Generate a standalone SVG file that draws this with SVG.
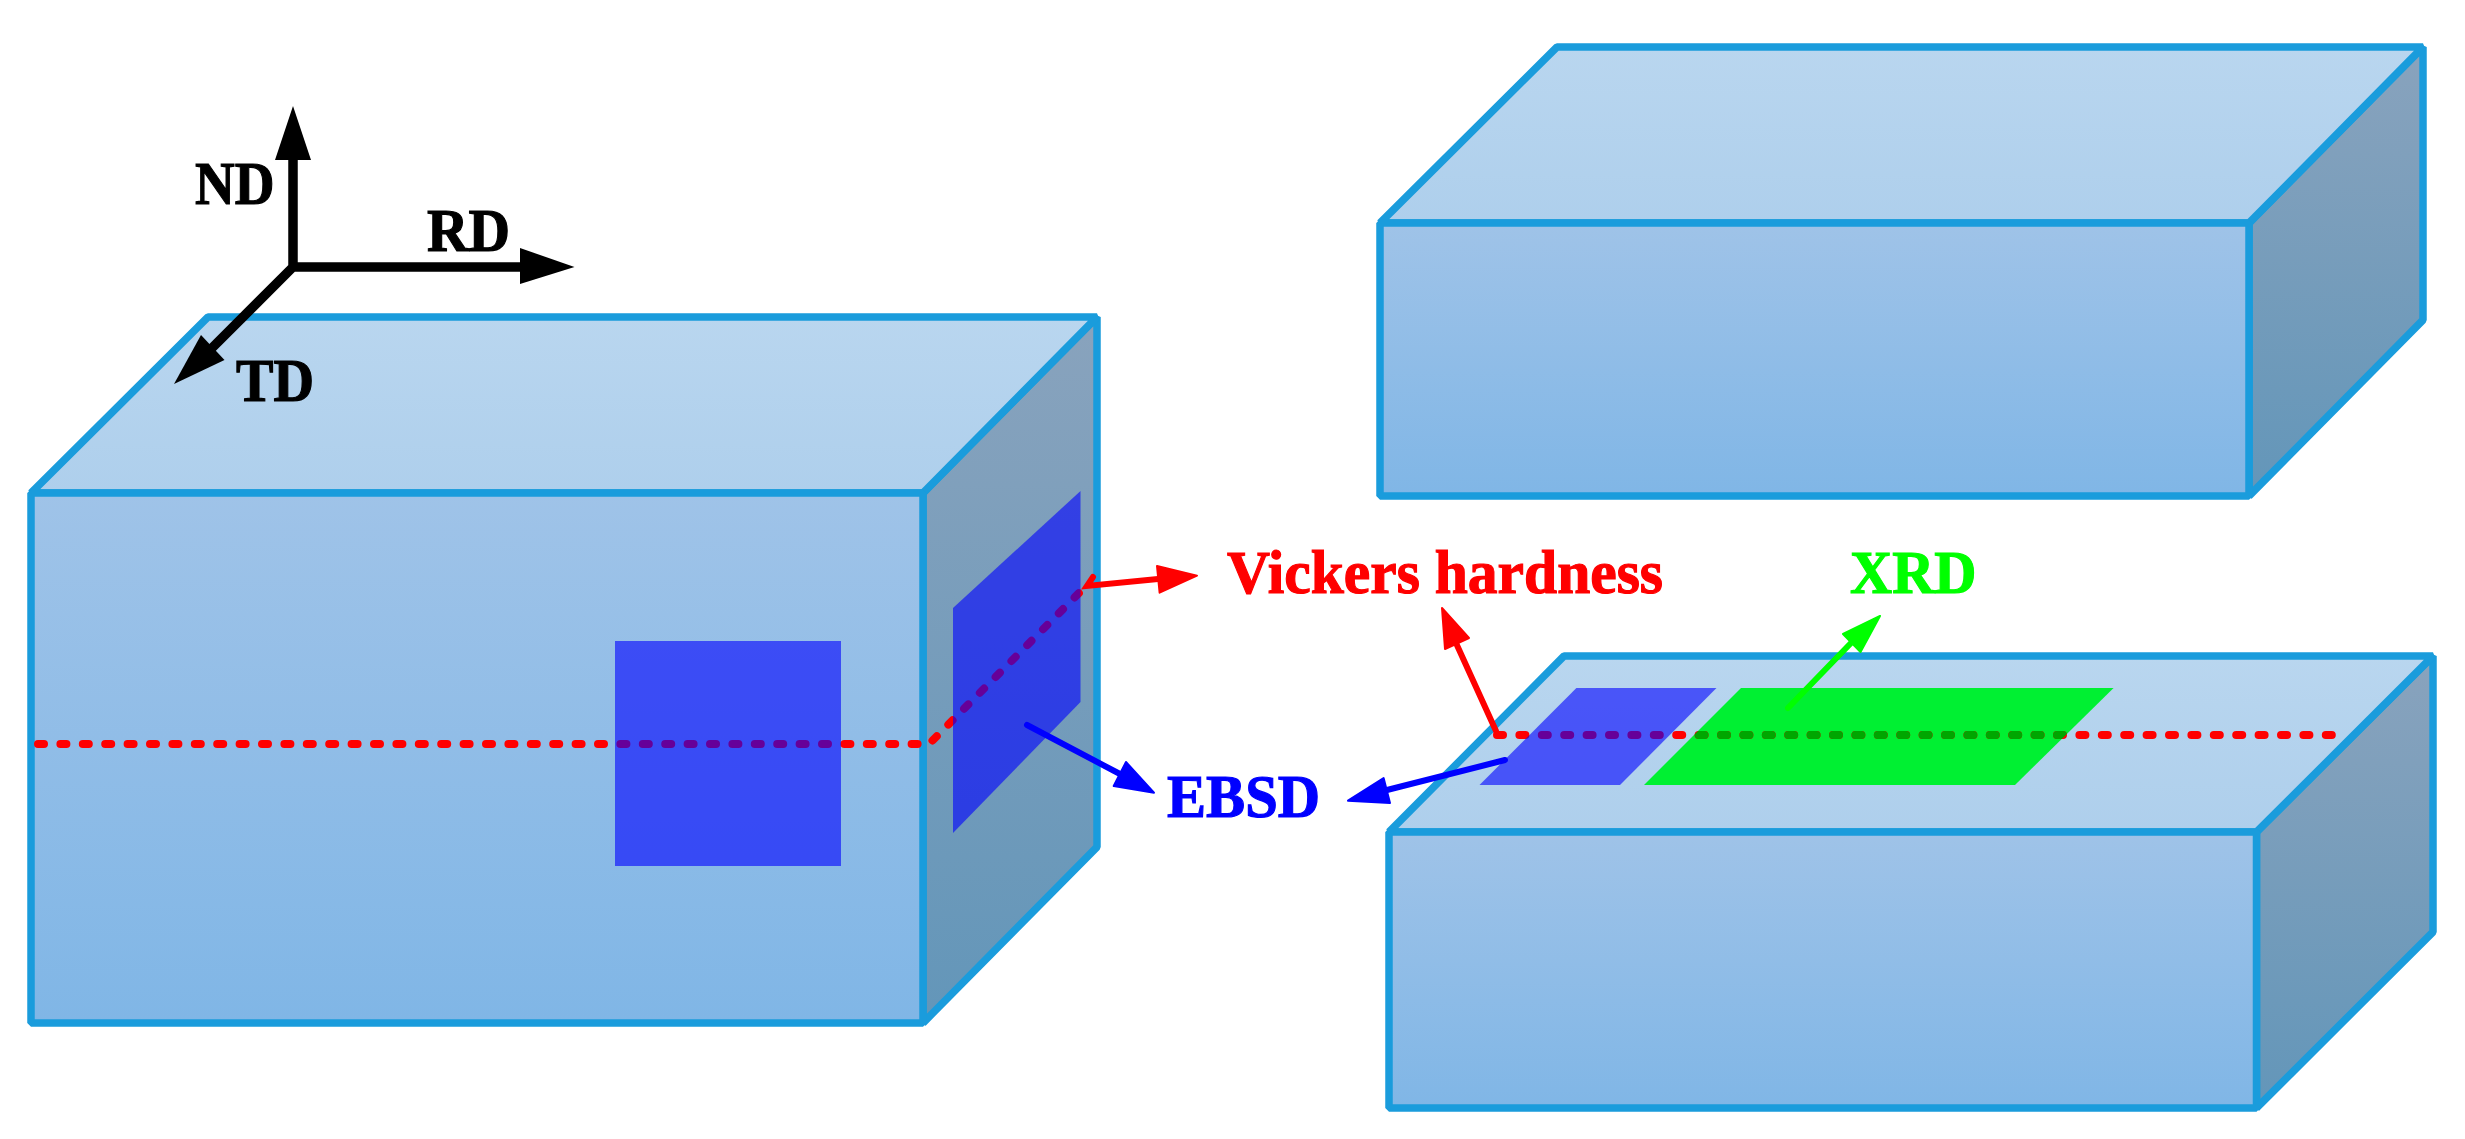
<svg xmlns="http://www.w3.org/2000/svg" width="2465" height="1139" viewBox="0 0 2465 1139">
<style>
.e{stroke:#1a9cdc;stroke-width:7.5;stroke-linejoin:bevel}
.t{fill:url(#gt)}.f{fill:url(#gf)}.s{fill:url(#gs)}
.b{fill:#0000ff;fill-opacity:.6}
.d{fill:none;stroke:#ff0000;stroke-width:8;stroke-linecap:round;stroke-dasharray:6 16.400}
text{font-family:"Liberation Serif","Times New Roman",serif;font-weight:bold;font-size:62px;stroke-width:1.2px}
.ax{stroke:#000;stroke-width:9.500;fill:none}
.ar{stroke:#ff0000;fill:#ff0000}.ab{stroke:#0000ff;fill:#0000ff}.ag{stroke:#00ff00;fill:#00ff00}
.l{stroke-width:6;stroke-linecap:round;fill:none}
polygon.h{stroke-width:2;stroke-linejoin:round}
</style>
<defs>
<linearGradient id="gt" x1="0" y1="0" x2="0" y2="1"><stop offset="0" stop-color="#b9d6ef"/><stop offset="1" stop-color="#aecfec"/></linearGradient>
<linearGradient id="gf" x1="0" y1="0" x2="0" y2="1"><stop offset="0" stop-color="#9fc3e8"/><stop offset="1" stop-color="#80b6e6"/></linearGradient>
<linearGradient id="gs" x1="0" y1="0" x2="0" y2="1"><stop offset="0" stop-color="#89a3bd"/><stop offset="1" stop-color="#6396b9"/></linearGradient>
<clipPath id="cg"><polygon points="1741,688 2113.600,688 2015,785 1644,785"/></clipPath>
</defs>

<g id="box-left">
<polygon class="e s" points="923,493 1097,317 1097,847 923,1023"/>
<polygon class="e t" points="31,493 208,317 1097,317 923,493"/>
<rect class="e f" x="31" y="493" width="892" height="530"/>
</g>
<path id="line-left" class="d" d="M38,744H929L1079,593"/>
<rect id="patch-left-front" class="b" x="615" y="641" width="226" height="225"/>
<polygon id="patch-left-side" class="b" points="953,608 1080.500,491 1080.500,702 953,833"/>

<g id="box-top">
<polygon class="e s" points="2249,223 2423,47 2423,320 2249,496"/>
<polygon class="e t" points="1380,223 1557,47 2423,47 2249,223"/>
<rect class="e f" x="1380" y="223" width="869" height="273"/>
</g>

<g id="box-bottom">
<polygon class="e s" points="2256.500,832 2433,656 2433,932 2256.500,1108"/>
<polygon class="e t" points="1389,832 1564,656 2433,656 2256.500,832"/>
<rect class="e f" x="1389" y="832" width="867.500" height="276"/>
</g>
<polygon id="patch-green" fill="#00f032" points="1741,688 2113.600,688 2015,785 1644,785"/>
<path id="line-bottom" class="d" d="M1497,735H2336"/>
<path id="line-bottom-green" class="d" style="stroke:#00a600" clip-path="url(#cg)" d="M1497,735H2336"/>
<polygon id="patch-blue" class="b" points="1576.400,688 1716.500,688 1620,785 1479.500,785"/>

<g id="connectors">
<g id="axes">
<path class="ax" d="M293,160V267H520M293,267L195,365"/>
<polygon points="293,106 311,160 275,160"/>
<polygon points="574.500,267 520,248 520,284"/>
<polygon points="174,384 201,335 224.500,360"/>
</g>
<g class="ar"><path class="l" d="M1093,577L1087,586L1158,579"/><polygon class="h" points="1197,575.700 1157,566 1159.600,592.700"/>
<path class="l" d="M1496,731L1456,643"/><polygon class="h" points="1442,608 1445,649 1469,638"/></g>
<g class="ab"><path class="l" d="M1027,725L1120,774"/><polygon class="h" points="1154,792.700 1126,762 1113.700,786"/>
<path class="l" d="M1505,760L1387,790"/><polygon class="h" points="1348,800.700 1383.600,778 1390,803"/></g>
<g class="ag"><path class="l" d="M1788,708L1851,643"/><polygon class="h" points="1880,616 1843,634 1860.500,652"/></g>
</g>

<g id="label-nd"><text x="195" y="204" stroke="#000" textLength="79.500" lengthAdjust="spacingAndGlyphs">ND</text></g>
<g id="label-rd"><text x="427" y="250.700" stroke="#000" textLength="83" lengthAdjust="spacingAndGlyphs">RD</text></g>
<g id="label-td"><text x="236" y="400.700" stroke="#000" textLength="78" lengthAdjust="spacingAndGlyphs">TD</text></g>
<g id="label-vickers"><text x="1227" y="592.700" fill="#ff0000" stroke="#ff0000" textLength="436" lengthAdjust="spacingAndGlyphs">Vickers hardness</text></g>
<g id="label-ebsd"><text x="1167" y="817" fill="#0000ff" stroke="#0000ff" textLength="153" lengthAdjust="spacingAndGlyphs">EBSD</text></g>
<g id="label-xrd"><text x="1850" y="593" fill="#00ff00" stroke="#00ff00" textLength="126.400" lengthAdjust="spacingAndGlyphs">XRD</text></g>
</svg>
